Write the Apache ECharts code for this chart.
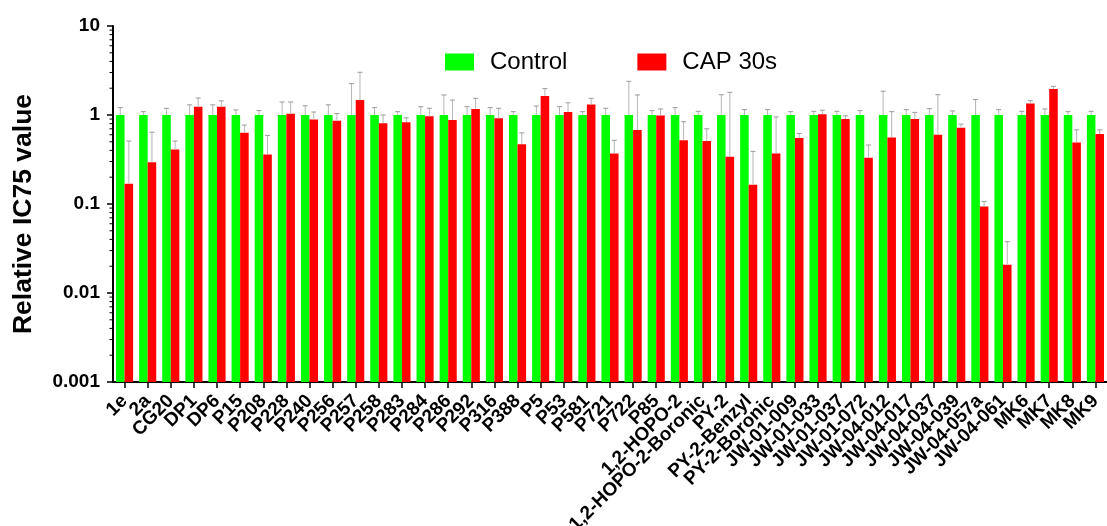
<!DOCTYPE html>
<html>
<head>
<meta charset="utf-8">
<script src="https://cdn.jsdelivr.net/npm/echarts@6/dist/echarts.min.js"></script>
<style>
  html, body { margin: 0; padding: 0; background: #fff; }
  #chart { width: 1107px; height: 526px; }
</style>
</head>
<body>
<div id="chart"></div>
<script>
const categories = ['1e','2a','CG20','DP1','DP6','P15','P208','P228','P240','P256','P257','P258','P283','P284','P286','P292','P316','P388','P5','P53','P581','P721','P722','P85','1,2-HOPO-2','1,2-HOPO-2-Boronic','PY-2','PY-2-Benzyl','PY-2-Boronic','JW-01-009','JW-01-033','JW-01-037','JW-01-072','JW-04-012','JW-04-017','JW-04-037','JW-04-039','JW-04-057a','JW-04-061','MK6','MK7','MK8','MK9'];

const control = [1,1,1,1,1,1,1,1,1,1, 1,1,1,1,1,1,1,1,1,1, 1,1,1,1,1,1,1,1,1,1, 1,1,1,1,1,1,1,1,1,1, 1,1,1];
const controlErrTop = [1.21,1.09,1.19,1.30,1.30,1.14,1.12,1.40,1.27,1.30, 2.25,1.21,1.09,1.24,1.68,1.24,1.21,1.09,1.26,1.24, 1.09,1.19,2.39,1.12,1.21,1.10,1.69,1.15,1.15,1.09, 1.10,1.10,1.12,1.85,1.15,1.18,1.11,1.49,1.15,1.10, 1.17,1.09,1.10];

const cap30 = [0.169,0.294,0.41,1.24,1.24,0.63,0.36,1.03,0.89,0.86, 1.47,0.81,0.83,0.97,0.88,1.17,0.92,0.47,1.63,1.08, 1.31,0.37,0.68,0.99,0.52,0.51,0.34,0.165,0.37,0.55, 1.02,0.90,0.33,0.56,0.90,0.60,0.72,0.094,0.0208,1.35, 1.96,0.49,0.61];
const cap30ErrTop = [0.51,0.64,0.51,1.55,1.44,0.77,0.59,1.40,1.08,1.04, 3.02,1.0,0.93,1.19,1.47,1.54,1.19,0.63,1.98,1.37, 1.54,0.52,1.68,1.17,0.84,0.70,1.80,0.39,0.95,0.62, 1.13,0.98,0.46,1.09,1.07,1.69,0.79,0.107,0.0377,1.45, 2.10,0.68,0.68];

const yTickLabels = ['0.001','0.01','0.1','1','10'];
const yMin = 0.001, yMax = 10;

// minor tick positions of the log axis (2..9 within each decade)
const minorTickValues = [];
[0.001, 0.01, 0.1, 1].forEach(function (d) {
  for (let k = 2; k <= 9; k++) minorTickValues.push(+(d * k).toPrecision(3));
});

const FONT = "'Liberation Sans', Arial, sans-serif";
const CAT_GAP = 0.26;

function makeBarRender(side) {
  return function (params, api) {
    const idx = api.value(0);
    const val = api.value(1);
    const err = api.value(2);
    const cs = params.coordSys;
    const band = api.size([1, 1])[0];
    const bw = band * (1 - CAT_GAP) / 2;
    const center = api.coord([idx, val]);
    const x0 = side < 0 ? center[0] - bw : center[0];
    const yTop = center[1];
    const yBottom = cs.y + cs.height;
    const xc = x0 + bw / 2;
    const yErr = api.coord([idx, err])[1];
    return {
      type: 'group',
      children: [
        {
          type: 'rect',
          shape: { x: x0, y: yTop, width: bw, height: yBottom - yTop },
          style: { fill: api.visual('color') }
        },
        {
          type: 'line',
          shape: { x1: xc, y1: yTop, x2: xc, y2: yErr },
          style: { stroke: '#b5b5b5', lineWidth: 1 }
        },
        {
          type: 'line',
          shape: { x1: xc - 2.5, y1: yErr, x2: xc + 2.5, y2: yErr },
          style: { stroke: '#9a9a9a', lineWidth: 1 }
        }
      ]
    };
  };
}

const chart = echarts.init(document.getElementById('chart'));
chart.setOption({
  animation: false,
  backgroundColor: '#ffffff',
  textStyle: { fontFamily: FONT },
  grid: { left: 113, right: 0, top: 26, bottom: 144, containLabel: false, outerBoundsMode: 'none' },
  legend: {
    data: ['Control', 'CAP 30s'],
    left: 445,
    top: 50,
    padding: 0,
    icon: 'rect',
    itemWidth: 29,
    itemHeight: 17,
    itemGap: 70,
    textStyle: { fontSize: 24, color: '#000', fontFamily: FONT, padding: [0, 0, 0, 11] }
  },
  xAxis: {
    type: 'category',
    data: categories,
    axisLine: { show: true, lineStyle: { color: '#000', width: 2 } },
    axisTick: { show: true, alignWithLabel: true, length: 6, lineStyle: { color: '#000', width: 1.5 } },
    axisLabel: {
      interval: 0,
      rotate: 45,
      margin: 16,
      color: '#000',
      fontWeight: 'bold',
      fontSize: 19,
      fontFamily: FONT
    },
    splitLine: { show: false }
  },
  yAxis: {
    type: 'log',
    logBase: 10,
    min: yMin,
    max: yMax,
    name: 'Relative IC75 value',
    nameLocation: 'middle',
    nameGap: 76,
    nameTextStyle: { fontSize: 26.5, fontWeight: 'bold', color: '#000', fontFamily: FONT, padding: [0, 20, 0, 0] },
    axisLine: { show: true, lineStyle: { color: '#000', width: 2 } },
    axisTick: { show: true, length: 6, lineStyle: { color: '#000', width: 1.5 } },
    axisLabel: {
      margin: 13,
      color: '#000',
      fontWeight: 'bold',
      fontSize: 19,
      fontFamily: FONT,
      formatter: function (v) {
        const s = String(Number(v.toPrecision(6)));
        return yTickLabels.indexOf(s) >= 0 ? s : '';
      }
    },
    splitLine: { show: false }
  },
  series: [
    {
      name: 'Control',
      type: 'custom',
      itemStyle: { color: '#00ff00' },
      encode: { x: 0, y: 1 },
      renderItem: makeBarRender(-1),
      data: control.map(function (v, i) { return [i, v, controlErrTop[i]]; }),
      z: 2
    },
    {
      name: 'CAP 30s',
      type: 'custom',
      itemStyle: { color: '#ff0000' },
      encode: { x: 0, y: 1 },
      renderItem: makeBarRender(1),
      data: cap30.map(function (v, i) { return [i, v, cap30ErrTop[i]]; }),
      z: 2
    },
    {
      name: 'minorTicks',
      type: 'custom',
      silent: true,
      encode: { x: 0, y: 1 },
      renderItem: function (params, api) {
        const cs = params.coordSys;
        const y = api.coord([0, api.value(1)])[1];
        return {
          type: 'line',
          shape: { x1: cs.x - 3.5, y1: y, x2: cs.x, y2: y },
          style: { stroke: '#000', lineWidth: 1 }
        };
      },
      data: minorTickValues.map(function (v) { return [0, v]; }),
      z: 5
    }
  ]
});
</script>
</body>
</html>
